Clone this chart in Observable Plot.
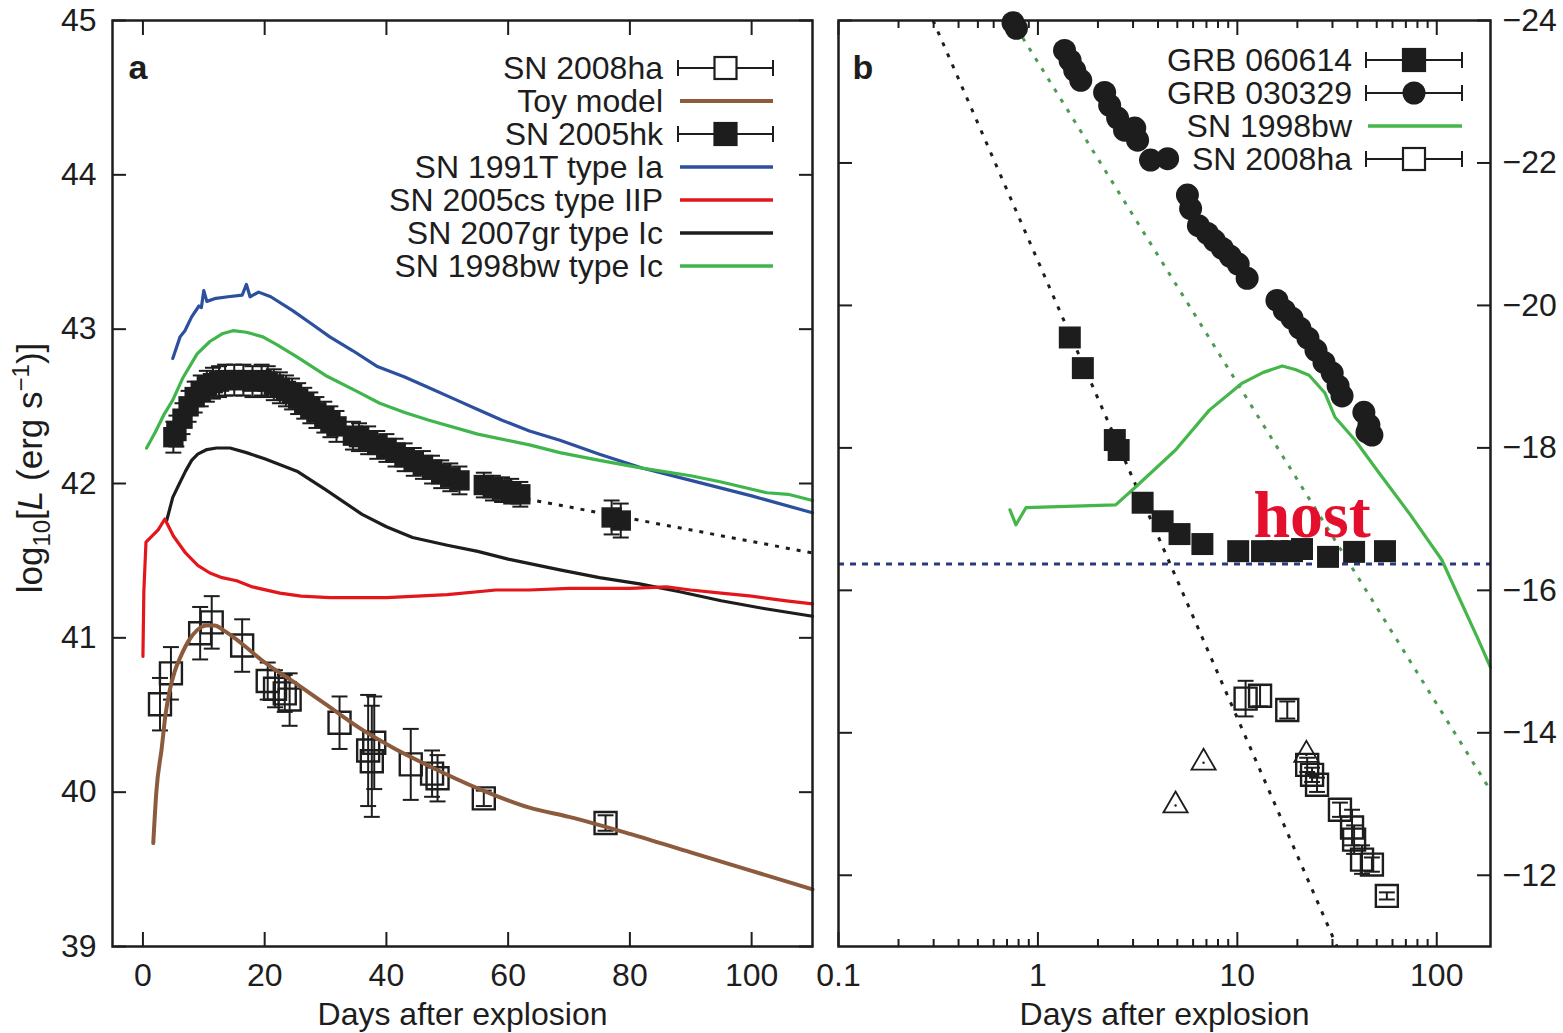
<!DOCTYPE html>
<html>
<head>
<meta charset="utf-8">
<script src="https://cdn.jsdelivr.net/npm/d3@7"></script>
<script src="https://cdn.jsdelivr.net/npm/@observablehq/plot@0.6"></script>
<style>
  body { margin: 0; background: #fff; }
  #wrap { position: relative; width: 1563px; height: 1033px; overflow: hidden; background: #fff; }
  #wrap svg { position: absolute; top: 0; }
</style>
</head>
<body>
<div id="wrap"></div>
<script>
// ---------------- Panel a: bolometric light curves, [day, log10 L] ----------------
const sn1991T = [[4.9,42.81],[6.1,42.95],[6.9,42.99],[8,43.08],[9.2,43.15],[9.6,43.14],[10,43.25],[10.5,43.18],[12,43.2],[14,43.21],[16.3,43.22],[17,43.29],[17.6,43.21],[19,43.24],[21,43.21],[24.6,43.12],[27.5,43.04],[30.7,42.95],[34.5,42.86],[38.4,42.76],[43,42.69],[47,42.62],[51,42.55],[55,42.48],[59,42.41],[63.5,42.34],[68.5,42.28],[75,42.19],[82,42.1],[90,42.02],[100,41.92],[110,41.81]];
const sn1998bwA = [[0.6,42.23],[2,42.33],[3.5,42.45],[4.9,42.54],[6.5,42.68],[8.9,42.84],[11,42.92],[13,42.97],[14.8,42.99],[17,42.98],[19.7,42.95],[22,42.9],[25.3,42.82],[30,42.7],[35,42.6],[38.9,42.52],[43,42.46],[47,42.41],[55,42.32],[63.5,42.25],[68.5,42.2],[75,42.15],[82,42.1],[90,42.05],[95,42.01],[102.5,41.94],[106,41.93],[110,41.89]];
const sn2007gr = [[3.9,41.76],[4.9,41.91],[6,42.0],[7,42.08],[8,42.15],[9,42.19],[10.5,42.22],[12.1,42.23],[14.3,42.23],[17,42.2],[20,42.16],[25.3,42.08],[30,41.96],[36,41.8],[40,41.72],[44.3,41.65],[50,41.6],[55,41.56],[60,41.51],[68.5,41.44],[75,41.39],[81.6,41.35],[88,41.3],[95,41.24],[102,41.19],[110,41.14]];
const sn2005cs = [[0,40.88],[0.15,41.3],[0.5,41.62],[2.5,41.7],[3.6,41.77],[5,41.66],[7,41.55],[9,41.47],[11,41.42],[13,41.39],[15.4,41.37],[18,41.33],[22.5,41.29],[26,41.27],[30.7,41.26],[40,41.26],[50,41.28],[58,41.31],[63.5,41.31],[70,41.32],[80,41.32],[86,41.33],[90,41.31],[95,41.29],[100,41.27],[105.7,41.24],[110,41.22]];
const toyModel = [[1.7,39.67],[2.2,40.0],[3.1,40.29],[3.7,40.5],[4.4,40.66],[5.2,40.78],[6.1,40.87],[7.5,40.98],[8.9,41.05],[10.5,41.08],[11.8,41.08],[13.2,41.05],[16,40.97],[19.7,40.85],[25.3,40.7],[30,40.57],[36.2,40.4],[41,40.29],[47,40.17],[55.3,40.02],[63.5,39.9],[70,39.84],[80,39.73],[90,39.61],[100,39.49],[110,39.37]];
// [day, log10 L, error]
const sn2005hk = [[5,42.3,0.1],[5.5,42.34,0.1],[6.5,42.42,0.1],[7.5,42.5,0.1],[8.5,42.56,0.1],[9.5,42.6,0.1],[10.5,42.63,0.1],[11.5,42.65,0.1],[12.5,42.66,0.1],[13.5,42.67,0.1],[15,42.67,0.1],[16.5,42.67,0.1],[18,42.66,0.1],[19.5,42.67,0.1],[20.5,42.66,0.1],[21.5,42.64,0.1],[22.5,42.62,0.1],[23.5,42.6,0.1],[24.5,42.58,0.1],[25.5,42.55,0.1],[26.5,42.52,0.1],[27.5,42.49,0.1],[28.5,42.46,0.1],[29.8,42.43,0.1],[30.8,42.4,0.1],[31.8,42.37,0.1],[34.5,42.31,0.09],[35.5,42.3,0.09],[37,42.28,0.09],[38.5,42.25,0.09],[40,42.23,0.09],[41.5,42.2,0.09],[43,42.17,0.09],[44.5,42.14,0.09],[46,42.12,0.09],[47.5,42.09,0.09],[49,42.06,0.09],[50.5,42.04,0.09],[52,42.02,0.09],[56,41.99,0.08],[57.5,41.97,0.08],[59,41.96,0.08],[60.5,41.95,0.08],[62,41.93,0.08],[77,41.78,0.11],[78.5,41.76,0.11]];
const sn2005hkTail = [[63,41.9],[110,41.55]];
const sn2008haA = [[2.8,40.57,0.17],[4.6,40.77,0.17],[9.4,41.03,0.17],[11.3,41.1,0.17],[16.3,40.95,0.17],[20.5,40.72,0.12],[21.7,40.67,0.12],[23.3,40.64,0.12],[24.1,40.6,0.17],[32.3,40.45,0.17],[37,40.27,0.36],[37.6,40.2,0.36],[38,40.32,0.3],[44,40.18,0.23],[47.5,40.12,0.15],[48.4,40.09,0.15],[56,39.96,0.05],[76,39.8,0.05]];

// ---------------- Panel b: absolute magnitude light curves, [day, M] ----------------
const grb060614 = [[1.445,-19.55],[1.68,-19.12],[2.43,-18.11],[2.54,-17.97],[3.35,-17.23],[4.22,-16.97],[5.13,-16.79],[6.68,-16.65],[10.1,-16.55],[13.3,-16.55],[15.85,-16.55],[18.8,-16.55],[21.1,-16.58],[28.5,-16.47],[38.5,-16.54],[55,-16.55]];
const grb030329 = [[0.75,-23.97],[0.78,-23.89],[1.36,-23.58],[1.45,-23.44],[1.53,-23.3],[1.64,-23.16],[2.16,-22.99],[2.29,-22.81],[2.51,-22.63],[2.72,-22.46],[3.06,-22.49],[3.16,-22.32],[3.67,-22.04],[4.47,-22.06],[5.62,-21.55],[5.83,-21.36],[6.38,-21.12],[7.08,-21.01],[7.67,-20.91],[8.41,-20.8],[9.22,-20.69],[10.1,-20.58],[11.2,-20.38],[15.8,-20.07],[17.2,-19.93],[18.8,-19.82],[20.6,-19.68],[22.6,-19.54],[24.8,-19.37],[27.2,-19.2],[29.9,-19.05],[32,-18.87],[33.5,-18.73],[43.1,-18.5],[45.7,-18.32],[47.3,-18.18],[44.7,-18.22]];
const sn1998bwB = [[0.724,-17.13],[0.776,-16.92],[0.871,-17.16],[2.455,-17.2],[3.09,-17.45],[4.9,-17.97],[7.24,-18.53],[10.59,-18.91],[13.5,-19.06],[16.79,-19.15],[19.5,-19.1],[22.9,-19.02],[27.5,-18.77],[30.9,-18.43],[38.9,-18.11],[51.3,-17.65],[72.4,-17.09],[105.9,-16.43],[162,-15.3],[186,-14.92]];
// [day, M, error]
const sn2008haB = [[11.0,-14.48,0.25],[13.0,-14.52,0.15],[17.8,-14.32,0.12],[22.4,-13.55,0.1],[23.7,-13.41,0.1],[25.1,-13.27,0.1],[32.7,-12.92,0.1],[37.6,-12.67,0.25],[38.5,-12.5,0.2],[42.2,-12.22,0.2],[47.3,-12.15,0.1],[56.2,-11.71,0.05]];
const sn2008haLimits = [[4.9,-12.98],[6.77,-13.58],[22.2,-13.69]];
const powerLawSteep = [[0.298,-24],[31.6,-11]];
const powerLawShallow = [[0.78,-23.9],[186,-13.19]];
const hostLevel = [-16.37];
const hostLabel = [[23.7,-17.04]];

// ---------------- ticks ----------------
const xTicksA = [0, 20, 40, 60, 80, 100];
const yTicksA = [39, 40, 41, 42, 43, 44, 45];
const xTicksB = [0.1, 1, 10, 100];
const xMinorB = [0.2,0.3,0.4,0.5,0.6,0.7,0.8,0.9,2,3,4,5,6,7,8,9,20,30,40,50,60,70,80,90];
const yTicksB = [-24, -22, -20, -18, -16, -14, -12];

// ---------------- styling ----------------
const sans = '"Liberation Sans", Arial, Helvetica, sans-serif';
const serif = '"Liberation Serif", "Times New Roman", serif';
const ink = "#1d1d1d";
const blue = "#2c4f9e", green = "#3fb54b", red = "#e3161b", brown = "#8c5b3e";
const navy = "#2a3b7d", dotGreen = "#4f9a52", hostRed = "#e30f2c";
const tickFont = 32;
const plainNumber = d => String(d).replace("-", "\u2212");

// horizontal bar used as an error-bar cap
const capSymbol = { draw(ctx, size) { const w = Math.sqrt(size); ctx.moveTo(-w / 2, 0); ctx.lineTo(w / 2, 0); } };

const curve = (data, stroke, strokeWidth = 3, extra = {}) =>
  Plot.line(data, { x: d => d[0], y: d => d[1], stroke, strokeWidth, strokeLinejoin: "round", strokeLinecap: "round", ...extra });

function errorBars(data, color) {
  return [
    Plot.ruleX(data, { x: d => d[0], y1: d => d[1] - d[2], y2: d => d[1] + d[2], stroke: color, strokeWidth: 2 }),
    Plot.dot(data, { x: d => d[0], y: d => d[1] - d[2], symbol: capSymbol, r: 9, stroke: color, strokeWidth: 2, fill: "none" }),
    Plot.dot(data, { x: d => d[0], y: d => d[1] + d[2], symbol: capSymbol, r: 9, stroke: color, strokeWidth: 2, fill: "none" })
  ];
}

// inward-pointing frame ticks plus outside tick labels
function frameAxes({ xTicks, xMinor = [], yTicks, yLabelAnchor }) {
  return [
    Plot.axisX(xTicks, { anchor: "bottom", tickSize: -14, fill: "none", stroke: ink, strokeWidth: 2 }),
    Plot.axisX(xTicks, { anchor: "top", tickSize: -14, fill: "none", stroke: ink, strokeWidth: 2 }),
    xMinor.length ? Plot.axisX(xMinor, { anchor: "bottom", tickSize: -7, fill: "none", stroke: ink, strokeWidth: 2 }) : null,
    xMinor.length ? Plot.axisX(xMinor, { anchor: "top", tickSize: -7, fill: "none", stroke: ink, strokeWidth: 2 }) : null,
    Plot.axisX(xTicks, { anchor: "bottom", tickSize: 0, tickPadding: 17, fontSize: tickFont, fill: ink, label: null, tickFormat: plainNumber }),
    Plot.axisY(yTicks, { anchor: "left", tickSize: -14, fill: "none", stroke: ink, strokeWidth: 2 }),
    Plot.axisY(yTicks, { anchor: "right", tickSize: -14, fill: "none", stroke: ink, strokeWidth: 2 }),
    Plot.axisY(yTicks, { anchor: yLabelAnchor, tickSize: 0, tickPadding: yLabelAnchor === "left" ? 16 : 12, fontSize: tickFont, fill: ink, label: null, tickFormat: plainNumber }),
    Plot.frame({ stroke: ink, strokeWidth: 2.5 }),
    Plot.text(["Days after explosion"], { frameAnchor: "bottom", dy: 78, lineAnchor: "bottom", fontSize: 32, fill: ink })
  ];
}

function drawLegend(svg, items, { right, x0, x1, y0, step }) {
  const g = d3.select(svg).append("g").attr("font-family", sans).attr("font-size", 32).attr("fill", ink);
  const cx = (x0 + x1) / 2;
  items.forEach((it, i) => {
    const y = y0 + i * step;
    g.append("text").attr("x", right).attr("y", y).attr("dy", "0.35em").attr("text-anchor", "end").text(it.label);
    if (it.kind === "line") {
      g.append("line").attr("x1", x0 + 2).attr("x2", x1).attr("y1", y).attr("y2", y)
        .attr("stroke", it.color).attr("stroke-width", it.width || 3.5);
      return;
    }
    g.append("line").attr("x1", x0).attr("x2", x1).attr("y1", y).attr("y2", y).attr("stroke", ink).attr("stroke-width", 2);
    for (const x of [x0, x1]) g.append("line").attr("x1", x).attr("x2", x).attr("y1", y - 8).attr("y2", y + 8).attr("stroke", ink).attr("stroke-width", 2);
    if (it.kind === "circle") g.append("circle").attr("cx", cx).attr("cy", y).attr("r", 11.5).attr("fill", ink);
    else g.append("rect").attr("x", cx - 11).attr("y", y - 11).attr("width", 22).attr("height", 22)
      .attr("fill", it.kind === "filledSquare" ? ink : "#fff").attr("stroke", ink).attr("stroke-width", 2.2);
  });
}

const wrap = document.getElementById("wrap");

// ---------------- panel a ----------------
const plotA = Plot.plot({
  width: 820, height: 1033,
  marginLeft: 112, marginRight: 8, marginTop: 20, marginBottom: 87,
  x: { type: "linear", domain: [-5, 110] },
  y: { type: "linear", domain: [39, 45] },
  style: { fontFamily: sans, color: ink, background: "transparent", overflow: "visible" },
  marks: [
    curve(sn1991T, blue, 3.2),
    curve(sn1998bwA, green, 3.2),
    curve(sn2007gr, ink, 3.2),
    curve(sn2005cs, red, 3.2),
    curve(sn2005hkTail, ink, 3, { strokeDasharray: "4,7", strokeLinecap: "butt" }),
    ...errorBars(sn2005hk, ink),
    Plot.dot(sn2005hk, { x: d => d[0], y: d => d[1], symbol: "square", r: 11.5, fill: ink, stroke: "none" }),
    ...errorBars(sn2008haA, ink),
    Plot.dot(sn2008haA, { x: d => d[0], y: d => d[1], symbol: "square", r: 12.4, fill: "none", stroke: ink, strokeWidth: 2.4 }),
    curve(toyModel, brown, 4, { curve: "monotone-x" }),
    Plot.text(["a"], { frameAnchor: "top-left", dx: 16, dy: 58, lineAnchor: "bottom", fontSize: 34, fontWeight: "bold", fill: ink }),
    ...frameAxes({ xTicks: xTicksA, yTicks: yTicksA, yLabelAnchor: "left" })
  ]
});
plotA.style.left = "0px";
wrap.appendChild(plotA);

// y-axis title with subscript and superscript
const yTitle = d3.select(plotA).append("text")
  .attr("transform", "translate(42,468) rotate(-90)")
  .attr("text-anchor", "middle").attr("font-family", sans).attr("font-size", 35).attr("fill", ink);
yTitle.append("tspan").text("log");
yTitle.append("tspan").attr("font-size", 24).attr("dy", 8).text("10");
yTitle.append("tspan").attr("dy", -8).text("[");
yTitle.append("tspan").attr("font-style", "italic").text("L");
yTitle.append("tspan").text(" (erg s");
yTitle.append("tspan").attr("font-size", 24).attr("dy", -13).text("\u22121");
yTitle.append("tspan").attr("dy", 13).text(")]");

drawLegend(plotA, [
  { label: "SN 2008ha", kind: "openSquare" },
  { label: "Toy model", kind: "line", color: brown, width: 4 },
  { label: "SN 2005hk", kind: "filledSquare" },
  { label: "SN 1991T type Ia", kind: "line", color: blue },
  { label: "SN 2005cs type IIP", kind: "line", color: red },
  { label: "SN 2007gr type Ic", kind: "line", color: ink },
  { label: "SN 1998bw type Ic", kind: "line", color: green }
], { right: 663, x0: 678, x1: 773, y0: 68, step: 33 });

// ---------------- panel b ----------------
const plotB = Plot.plot({
  width: 743, height: 1033,
  marginLeft: 18, marginRight: 73, marginTop: 20, marginBottom: 87,
  x: { type: "log", domain: [0.1, 186] },
  y: { type: "linear", domain: [-24, -11], reverse: true },
  style: { fontFamily: sans, color: ink, background: "transparent", overflow: "visible" },
  marks: [
    Plot.ruleY(hostLevel, { stroke: navy, strokeWidth: 3, strokeDasharray: "6,6" }),
    curve(powerLawSteep, ink, 3, { strokeDasharray: "4,8", strokeLinecap: "butt" }),
    curve(powerLawShallow, dotGreen, 3, { strokeDasharray: "4,8", strokeLinecap: "butt" }),
    curve(sn1998bwB, "#45b649", 3.2),
    Plot.dot(grb030329, { x: d => d[0], y: d => d[1], r: 11.5, fill: ink, stroke: "none" }),
    Plot.dot(grb060614, { x: d => d[0], y: d => d[1], symbol: "square", r: 12.4, fill: ink, stroke: "none" }),
    ...errorBars(sn2008haB, ink),
    Plot.dot(sn2008haB, { x: d => d[0], y: d => d[1], symbol: "square", r: 12.4, fill: "none", stroke: ink, strokeWidth: 2.4 }),
    Plot.dot(sn2008haLimits, { x: d => d[0], y: d => d[1], symbol: "triangle", r: 9, fill: "none", stroke: ink, strokeWidth: 1.8 }),
    Plot.dot(sn2008haLimits, { x: d => d[0], y: d => d[1], r: 1.2, fill: ink }),
    Plot.text(hostLabel, { x: d => d[0], y: d => d[1], text: () => "host", fontFamily: serif, fontWeight: "bold", fontSize: 66, fill: hostRed }),
    Plot.text(["b"], { frameAnchor: "top-left", dx: 14, dy: 58, lineAnchor: "bottom", fontSize: 34, fontWeight: "bold", fill: ink }),
    ...frameAxes({ xTicks: xTicksB, xMinor: xMinorB, yTicks: yTicksB, yLabelAnchor: "right" })
  ]
});
plotB.style.left = "820px";
wrap.appendChild(plotB);

drawLegend(plotB, [
  { label: "GRB 060614", kind: "filledSquare" },
  { label: "GRB 030329", kind: "circle" },
  { label: "SN 1998bw", kind: "line", color: "#45b649" },
  { label: "SN 2008ha", kind: "openSquare" }
], { right: 532, x0: 546, x1: 642, y0: 60, step: 33 });
</script>
</body>
</html>
